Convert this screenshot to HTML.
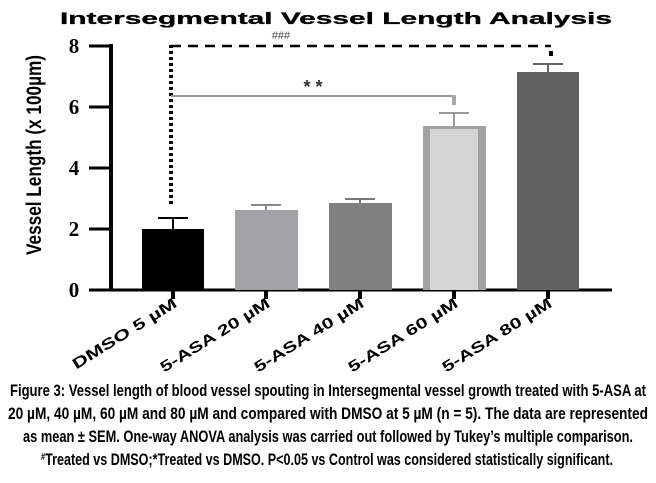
<!DOCTYPE html>
<html><head><meta charset="utf-8"><style>
html,body{margin:0;padding:0;background:#fff;width:656px;height:483px;overflow:hidden}
</style></head><body>
<svg width="656" height="483" viewBox="0 0 656 483" xmlns="http://www.w3.org/2000/svg">
<text x="60" y="24" font-family="Liberation Sans, sans-serif" font-weight="bold" font-size="17" textLength="552" lengthAdjust="spacingAndGlyphs" stroke="#000" stroke-width="0.3">Intersegmental  Vessel Length Analysis</text>
<text x="281" y="39" text-anchor="middle" font-family="Liberation Sans, sans-serif" font-size="11" fill="#444">###</text>
<!-- axes -->
<line x1="111" y1="44" x2="111" y2="291" stroke="#000" stroke-width="4"/>
<line x1="89" y1="290" x2="612" y2="290" stroke="#000" stroke-width="3"/>
<g stroke="#000" stroke-width="3">
<line x1="89" y1="46" x2="111" y2="46"/><line x1="89" y1="107" x2="111" y2="107"/>
<line x1="89" y1="168" x2="111" y2="168"/><line x1="89" y1="229" x2="111" y2="229"/>
</g>
<g font-family="Liberation Serif, serif" font-weight="bold" font-size="21" text-anchor="middle">
<text x="74" y="53">8</text><text x="74" y="114">6</text><text x="74" y="175">4</text><text x="74" y="236">2</text><text x="74" y="297">0</text>
</g>
<text transform="translate(41,155) rotate(-90)" text-anchor="middle" font-family="Liberation Sans Narrow, Liberation Sans, sans-serif" font-weight="bold" font-size="21" textLength="200" lengthAdjust="spacingAndGlyphs">Vessel Length (x 100µm)</text>
<!-- bars -->
<rect x="142" y="229" width="62" height="61" fill="#000"/>
<rect x="235" y="210" width="63" height="80" fill="#a2a2a6"/>
<rect x="329" y="203" width="63" height="87" fill="#808080"/>
<rect x="423" y="126" width="63" height="164" fill="#a2a2a6"/>
<rect x="430" y="129" width="48" height="161" fill="#d5d5d5"/>
<rect x="517" y="72" width="62" height="218" fill="#626262"/>
<!-- error bars -->
<g stroke-width="2">
<line x1="173" y1="229" x2="173" y2="218" stroke="#000"/><line x1="158" y1="218" x2="188" y2="218" stroke="#000"/>
<line x1="266" y1="210" x2="266" y2="205" stroke="#888"/><line x1="251" y1="205" x2="281" y2="205" stroke="#888"/>
<line x1="360" y1="203" x2="360" y2="199" stroke="#777"/><line x1="345" y1="199" x2="375" y2="199" stroke="#777"/>
<line x1="454" y1="126" x2="454" y2="113" stroke="#999"/><line x1="439" y1="113" x2="469" y2="113" stroke="#999"/>
<line x1="548" y1="72" x2="548" y2="64" stroke="#666"/><line x1="533" y1="64" x2="563" y2="64" stroke="#666"/>
</g>
<!-- bottom ticks -->
<g stroke="#000" stroke-width="4">
<line x1="173" y1="290" x2="173" y2="299"/><line x1="266" y1="290" x2="266" y2="299"/>
<line x1="360" y1="290" x2="360" y2="299"/><line x1="454" y1="290" x2="454" y2="299"/>
<line x1="548" y1="290" x2="548" y2="299"/>
</g>
<!-- significance -->
<line x1="171" y1="46" x2="551" y2="46" stroke="#000" stroke-width="2.5" stroke-dasharray="10,7"/>
<line x1="171" y1="45" x2="171" y2="204" stroke="#000" stroke-width="4" stroke-dasharray="3,3"/>
<line x1="171" y1="96" x2="454" y2="96" stroke="#999" stroke-width="2"/>
<line x1="454" y1="95" x2="454" y2="105" stroke="#aaa" stroke-width="4"/>
<rect x="549" y="51" width="4" height="5" fill="#000"/>
<text x="313" y="93" text-anchor="middle" font-family="Liberation Sans, sans-serif" font-weight="bold" font-size="18" fill="#333">* *</text>
<!-- x labels -->
<g font-family="Liberation Sans, sans-serif" font-weight="bold" font-size="15" text-anchor="end">
<text transform="translate(178,306) rotate(-32)" textLength="120" lengthAdjust="spacingAndGlyphs">DMSO 5 µM</text>
<text transform="translate(271,306) rotate(-32)" textLength="126" lengthAdjust="spacingAndGlyphs">5-ASA 20 µM</text>
<text transform="translate(365,306) rotate(-32)" textLength="126" lengthAdjust="spacingAndGlyphs">5-ASA 40 µM</text>
<text transform="translate(459,306) rotate(-32)" textLength="126" lengthAdjust="spacingAndGlyphs">5-ASA 60 µM</text>
<text transform="translate(553,306) rotate(-32)" textLength="126" lengthAdjust="spacingAndGlyphs">5-ASA 80 µM</text>
</g>
<!-- caption -->
<g font-family="Liberation Sans Narrow, Liberation Sans, sans-serif" font-weight="bold" font-size="17" text-anchor="middle">
<text x="328" y="396" textLength="636" lengthAdjust="spacingAndGlyphs">Figure 3: Vessel length of blood vessel spouting in Intersegmental vessel growth treated with 5-ASA at</text>
<text x="328" y="419" textLength="640" lengthAdjust="spacingAndGlyphs">20 µM, 40 µM, 60 µM and 80 µM and compared with DMSO at 5 µM (n = 5). The data are represented</text>
<text x="328" y="442" textLength="610" lengthAdjust="spacingAndGlyphs">as mean ± SEM. One-way ANOVA analysis was carried out followed by Tukey’s multiple comparison.</text>
<text x="327" y="465" textLength="572" lengthAdjust="spacingAndGlyphs"><tspan font-size="10" dy="-5">#</tspan><tspan dy="5">Treated vs DMSO;*Treated vs DMSO. P&lt;0.05 vs Control was considered statistically significant.</tspan></text>
</g>
</svg>
</body></html>
